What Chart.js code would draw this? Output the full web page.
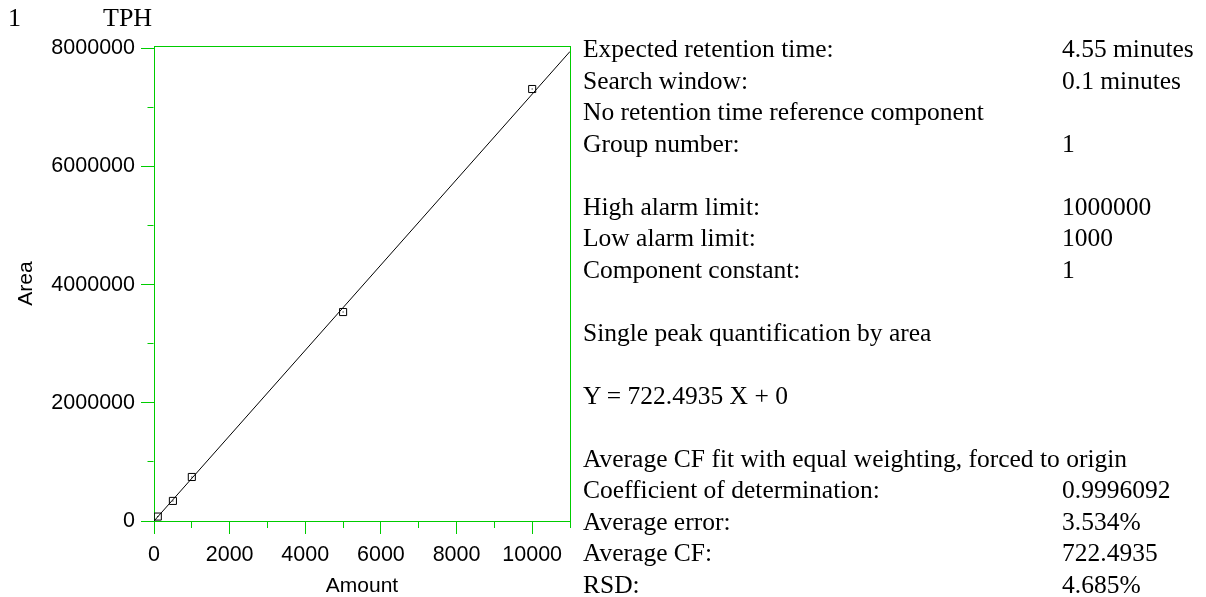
<!DOCTYPE html>
<html>
<head>
<meta charset="utf-8">
<script src="https://cdn.jsdelivr.net/npm/chart.js@4.4.1/dist/chart.umd.min.js"></script>
<style>
  html, body { margin: 0; padding: 0; background: #fff; }
  #wrap { position: relative; width: 1206px; height: 597px; overflow: hidden; }
  #c { position: absolute; left: 0; top: 0; }
  .serif { position: absolute; font-family: 'Liberation Serif', 'Times New Roman', serif; color: #000; white-space: nowrap; }
  #head { left: 0; top: 3px; font-size: 26px; line-height: 30px; }
  #info { left: 583px; top: 33px; font-size: 25.5px; line-height: 31.5px; }
  .row { position: relative; height: 31.5px; }
  .row .v { position: absolute; left: 479px; top: 0; }
</style>
</head>
<body>
<div id="wrap">
  <canvas id="c" width="1206" height="597"></canvas>
  <div id="head" class="serif"><span style="position:absolute;left:8px">1</span><span style="position:absolute;left:103px">TPH</span></div>
  <div id="info" class="serif"></div>
</div>
<script>
// Calibration standards: amount injected and integrated peak area
const amounts = [100, 500, 1000, 5000, 10000];
const areas   = [75000, 340000, 745000, 3537000, 7312000];

// Average response factor (forced through origin) and fitted range
const responseFactor = 722.4935;
const fitAmounts = [0, 11000];

// Axis ranges, tick marks and labelled ticks
const xMax = 11000;
const yMax = 8040000;
const xTicks = [0, 1000, 2000, 3000, 4000, 5000, 6000, 7000, 8000, 9000, 10000, 11000];
const xLabelled = [0, 2000, 4000, 6000, 8000, 10000];
const yTicks = [0, 1000000, 2000000, 3000000, 4000000, 5000000, 6000000, 7000000, 8000000];
const yLabelled = [0, 2000000, 4000000, 6000000, 8000000];

// Method summary shown beside the plot (null = blank line)
const infoRows = [
  ['Expected retention time:', '4.55 minutes'],
  ['Search window:', '0.1 minutes'],
  ['No retention time reference component', ''],
  ['Group number:', '1'],
  null,
  ['High alarm limit:', '1000000'],
  ['Low alarm limit:', '1000'],
  ['Component constant:', '1'],
  null,
  ['Single peak quantification by area', ''],
  null,
  ['Y = ' + responseFactor + ' X + 0', ''],
  null,
  ['Average CF fit with equal weighting, forced to origin', ''],
  ['Coefficient of determination:', '0.9996092'],
  ['Average error:', '3.534%'],
  ['Average CF:', String(responseFactor)],
  ['RSD:', '4.685%']
];

const info = document.getElementById('info');
infoRows.forEach(r => {
  const d = document.createElement('div');
  d.className = 'row';
  if (r) {
    const l = document.createElement('span');
    l.textContent = r[0];
    d.appendChild(l);
    if (r[1]) {
      const v = document.createElement('span');
      v.className = 'v';
      v.textContent = r[1];
      d.appendChild(v);
    }
  }
  info.appendChild(d);
});

const GREEN = '#00cc00';
const tickFont = { family: 'Liberation Sans', size: 21.5 };

const points = amounts.map((a, i) => ({ x: a, y: areas[i] }));
const fitLine = fitAmounts.map(a => ({ x: a, y: responseFactor * a }));

const isLabelled = (list, ctx) => !!(ctx.tick && list.includes(ctx.tick.value));

Chart.defaults.font.family = 'Liberation Sans';

new Chart(document.getElementById('c'), {
  type: 'scatter',
  data: {
    datasets: [
      {
        data: fitLine,
        showLine: true,
        borderColor: '#000',
        borderWidth: 1,
        pointRadius: 0,
        order: 3
      },
      {
        data: points,
        pointStyle: 'rect',
        pointRadius: 5,
        borderColor: '#000',
        borderWidth: 1,
        backgroundColor: 'rgba(0,0,0,0)',
        order: 2
      },
      {
        data: points,
        pointStyle: 'rect',
        pointRadius: 0.75,
        borderWidth: 0,
        backgroundColor: '#000',
        order: 1
      }
    ]
  },
  options: {
    responsive: false,
    animation: false,
    events: [],
    layout: { padding: { left: 0, right: 636, top: 46, bottom: 0 } },
    plugins: { legend: { display: false }, tooltip: { enabled: false } },
    scales: {
      x: {
        type: 'linear',
        position: 'bottom',
        min: 0,
        max: xMax,
        afterFit: s => { s.height = 76; },
        afterBuildTicks: s => { s.ticks = xTicks.map(v => ({ value: v })); },
        ticks: {
          autoSkip: false,
          maxRotation: 0,
          padding: 8,
          color: '#000',
          font: tickFont,
          callback: v => (xLabelled.includes(v) ? String(v) : '')
        },
        grid: {
          drawOnChartArea: false,
          drawTicks: true,
          tickLength: 13,
          tickColor: GREEN,
          tickWidth: 1,
          tickBorderDash: ctx => (isLabelled(xLabelled, ctx) ? [] : [6, 50])
        },
        border: { display: true, color: GREEN, width: 1 },
        title: {
          display: true,
          text: 'Amount',
          color: '#000',
          font: { family: 'Liberation Sans', size: 21, lineHeight: 0.9 },
          padding: { top: 0, bottom: 1 }
        }
      },
      y: {
        type: 'linear',
        position: 'left',
        min: 0,
        max: yMax,
        afterFit: s => { s.width = 154; },
        afterBuildTicks: s => { s.ticks = yTicks.map(v => ({ value: v })); },
        ticks: {
          autoSkip: false,
          padding: 6,
          color: '#000',
          font: tickFont,
          callback: v => (yLabelled.includes(v) ? String(v) : '')
        },
        grid: {
          drawOnChartArea: false,
          drawTicks: true,
          tickLength: 13,
          tickColor: GREEN,
          tickWidth: 1,
          tickBorderDash: ctx => (isLabelled(yLabelled, ctx) ? [] : [6, 50]),
          tickBorderDashOffset: ctx => (isLabelled(yLabelled, ctx) ? 0 : 49.5)
        },
        border: { display: true, color: GREEN, width: 1 },
        title: {
          display: true,
          text: 'Area',
          color: '#000',
          font: { family: 'Liberation Sans', size: 21, lineHeight: 1.2 },
          padding: { top: 14, bottom: 0 }
        }
      },
      xTop: {
        type: 'linear',
        position: 'top',
        min: 0,
        max: xMax,
        afterFit: s => { s.height = 0; },
        ticks: { display: false },
        grid: { drawOnChartArea: false, drawTicks: false },
        border: { display: true, color: GREEN, width: 1 }
      },
      yRight: {
        type: 'linear',
        position: 'right',
        min: 0,
        max: yMax,
        afterFit: s => { s.width = 0; },
        ticks: { display: false },
        grid: { drawOnChartArea: false, drawTicks: false },
        border: { display: true, color: GREEN, width: 1 }
      }
    }
  }
});
</script>
</body>
</html>
